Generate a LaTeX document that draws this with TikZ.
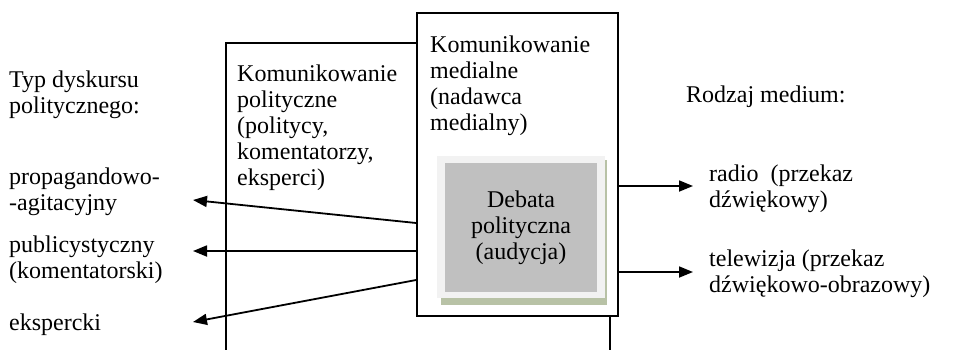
\documentclass[tikz,border=0pt]{standalone}
\usepackage{fontspec}
\setmainfont{Liberation Serif}
\usetikzlibrary{arrows.meta}
\definecolor{debfill}{HTML}{C0C0C0}
\definecolor{debrim}{HTML}{F2F2F2}
\definecolor{debshadow}{HTML}{B8C2A6}
\begin{document}
\begin{tikzpicture}[x=1pt,y=-1pt,
  % multi-line texts are placed by the baseline of their last line
  txt/.style={font=\fontsize{24}{26}\selectfont, inner sep=0pt, align=left, anchor=base west},
  frame/.style={draw=black, line width=1.8pt, inner sep=0pt},
  arr/.style={line width=1.8pt, -{Triangle[length=14pt,width=11pt]}}]
\useasboundingbox (0,0) rectangle (958,349);

% political communication frame (runs past the bottom edge)
\node[frame, minimum width=384pt, minimum height=317pt] (pol) at (418,201.5) {};
\node[txt] (poltxt) at (237,185) {Komunikowanie\\polityczne\\(politycy,\\komentatorzy,\\eksperci)};

% media communication frame
\node[frame, fill=white, minimum width=201pt, minimum height=303pt] (med) at (517.5,164.5) {};
\node[txt] (medtxt) at (430,130) {Komunikowanie\\medialne\\(nadawca\\medialny)};

% debate box: shadow, light rim, grey face
\node[fill=debshadow, inner sep=0pt, minimum width=166pt, minimum height=145pt] (debsh) at (524,232.5) {};
\node[fill=debrim, inner sep=0pt, minimum width=168pt, minimum height=142pt] (debrim) at (521,227) {};
\node[fill=debfill, inner sep=0pt, minimum width=152pt, minimum height=129pt] (deb) at (521,227.5) {};
\node[txt, align=center, anchor=base] (debtxt) at (521,259) {Debata\\polityczna\\(audycja)};

% discourse types
\node[txt] (typ) at (9,113) {Typ dyskursu\\politycznego:};
\node[txt] (prop) at (9,210) {propagandowo-\\-agitacyjny};
\node[txt] (publ) at (9,278) {publicystyczny\\(komentatorski)};
\node[txt] (eksp) at (9,330) {ekspercki};

% media types
\node[txt] (rodz) at (686,102) {Rodzaj medium:};
\node[txt] (radio) at (709,207) {radio\ \ (przekaz\\dźwiękowy)};
\node[txt] (tv) at (709,292) {telewizja (przekaz\\dźwiękowo-obrazowy)};

% arrow tips
\coordinate (tprop) at (193,200);
\coordinate (tpubl) at (193,251);
\coordinate (teksp) at (193,322);
\coordinate (tradio) at (693,186);
\coordinate (ttv) at (693,272);

\draw[arr] (med.west |- 0,223) -- (tprop);
\draw[arr] (med.west |- 0,251) -- (tpubl);
\draw[arr] (med.west |- 0,280) -- (teksp);
\draw[arr] (med.east |- tradio) -- (tradio);
\draw[arr] (med.east |- ttv) -- (ttv);
\end{tikzpicture}
\end{document}
